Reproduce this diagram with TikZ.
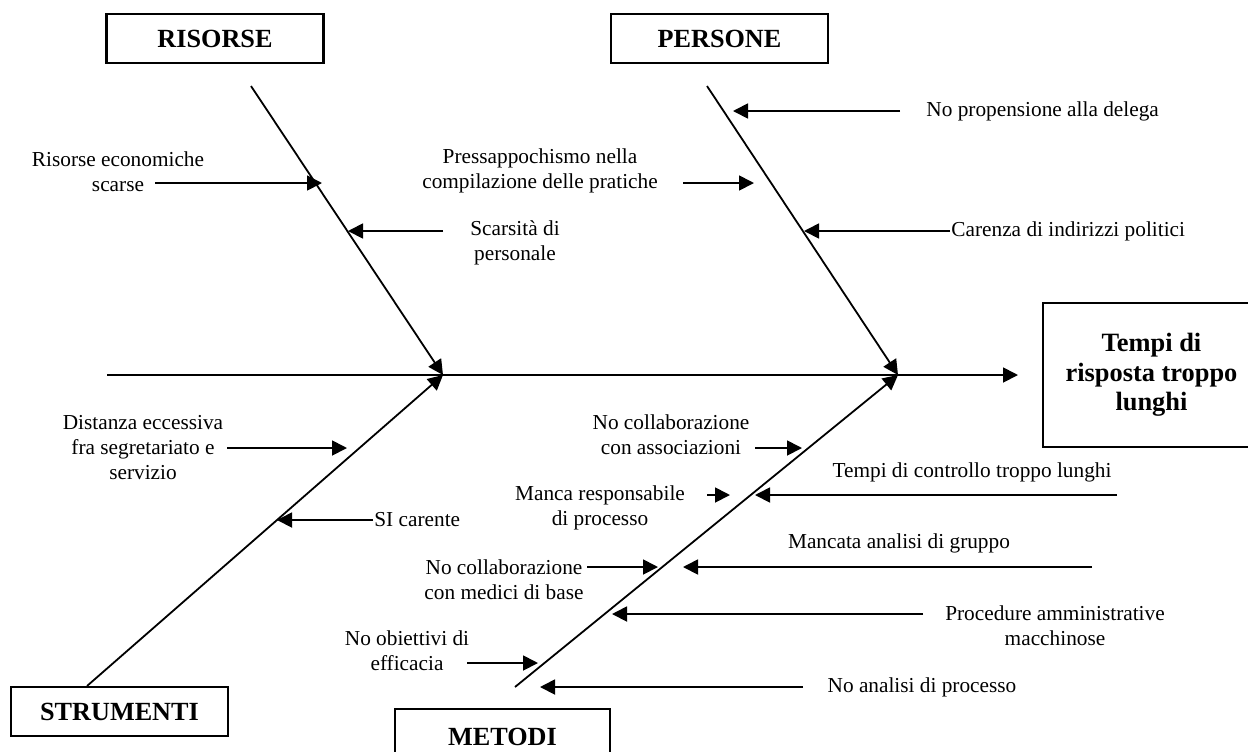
\documentclass[tikz,border=0pt]{standalone}
\usepackage{fontspec}
\setmainfont{Liberation Serif}
\usetikzlibrary{arrows.meta}
\begin{document}
\begin{tikzpicture}[x=0.5pt,y=-0.5pt,
  lbl/.style={font=\fontsize{10.65}{12.5}\selectfont, align=center, inner sep=0pt},
  catbox/.style={draw, line width=1.2pt, inner sep=0pt, minimum width=108.5pt,
    minimum height=24.5pt, font=\bfseries\fontsize{13.1}{15}\selectfont},
  cause/.style={-{Triangle[length=7.5pt,width=7.5pt]}, line width=0.9pt},
  bone/.style={line width=0.9pt}]
\useasboundingbox (0,0) rectangle (1248,751);
\clip (0,0) rectangle (1248,751);

% category boxes
\node[catbox] (risorse) at (215,38.5) {RISORSE};
\node[catbox] (persone) at (719.5,38.5) {PERSONE};
\node[catbox] (strumenti) at (119.5,711.5) {STRUMENTI};
\node[catbox, minimum width=107.5pt, minimum height=28pt] (metodi) at (502.5,737) {METODI};

% effect
\node[draw, line width=1.2pt, inner sep=0pt, minimum width=108.5pt, minimum height=72pt,
  align=center, font=\bfseries\fontsize{13.2}{14.75}\selectfont] (effetto) at (1151.5,375)
  {Tempi di\\risposta troppo\\lunghi};

% spine and bones
\coordinate (spA) at (107,375);
\coordinate (spB) at (1018,375);
\coordinate (j1) at (443,375);
\coordinate (j2) at (898,375);
\coordinate (rTop) at (251,86);
\coordinate (pTop) at (707,86);
\coordinate (sBot) at (87,686);
\coordinate (mBot) at (515,687);

\draw[cause] (spA) -- (spB);
\draw[cause] (rTop) -- (j1);
\draw[cause] (pTop) -- (j2);
\draw[cause] (sBot) -- (j1);
\draw[cause] (mBot) -- (j2);

% cause labels
\node[lbl] (t1) at (118,171.5) {Risorse economiche\\scarse};
\node[lbl] (t2) at (515,243) {Scarsità di\\personale};
\node[lbl] (t3) at (540,171) {Pressappochismo nella\\compilazione delle pratiche};
\node[lbl, anchor=west] (t4) at (926,111) {No propensione alla delega};
\node[lbl, anchor=west] (t5) at (951,231) {Carenza di indirizzi politici};
\node[lbl] (t6) at (143,448) {Distanza eccessiva\\fra segretariato e\\servizio};
\node[lbl, anchor=west] (t7) at (374,520) {SI carente};
\node[lbl] (t8) at (671,435) {No collaborazione\\con associazioni};
\node[lbl] (t9) at (600,507.5) {Manca responsabile\\di processo};
\node[lbl] (t10) at (972,472) {Tempi di controllo troppo lunghi};
\node[lbl] (t11) at (504,579.5) {No collaborazione\\con medici di base};
\node[lbl] (t12) at (899,543) {Mancata analisi di gruppo};
\node[lbl] (t13) at (1055,626) {Procedure amministrative\\macchinose};
\node[lbl] (t14) at (407,650.5) {No obiettivi di\\efficacia};
\node[lbl] (t15) at (922,687) {No analisi di processo};

% cause arrows: start and tip points
\coordinate (a1s) at (155,183);  \coordinate (a1e) at (322,183);
\coordinate (a2s) at (443,231);  \coordinate (a2e) at (348,231);
\coordinate (a3s) at (683,183);  \coordinate (a3e) at (754,183);
\coordinate (a4s) at (900,111);  \coordinate (a4e) at (733,111);
\coordinate (a5s) at (950,231);  \coordinate (a5e) at (804,231);
\coordinate (a6s) at (227,448);  \coordinate (a6e) at (347,448);
\coordinate (a7s) at (373,520);  \coordinate (a7e) at (277,520);
\coordinate (a8s) at (755,448);  \coordinate (a8e) at (802,448);
\coordinate (a9s) at (707,495);  \coordinate (a9e) at (730,495);
\coordinate (a10s) at (1117,495); \coordinate (a10e) at (755,495);
\coordinate (a11s) at (587,567); \coordinate (a11e) at (658,567);
\coordinate (a12s) at (1092,567); \coordinate (a12e) at (683,567);
\coordinate (a13s) at (923,614); \coordinate (a13e) at (612,614);
\coordinate (a14s) at (467,663); \coordinate (a14e) at (538,663);
\coordinate (a15s) at (803,687); \coordinate (a15e) at (540,687);

\foreach \i in {1,...,15} {\draw[cause] (a\i s) -- (a\i e);}
\end{tikzpicture}
\end{document}
